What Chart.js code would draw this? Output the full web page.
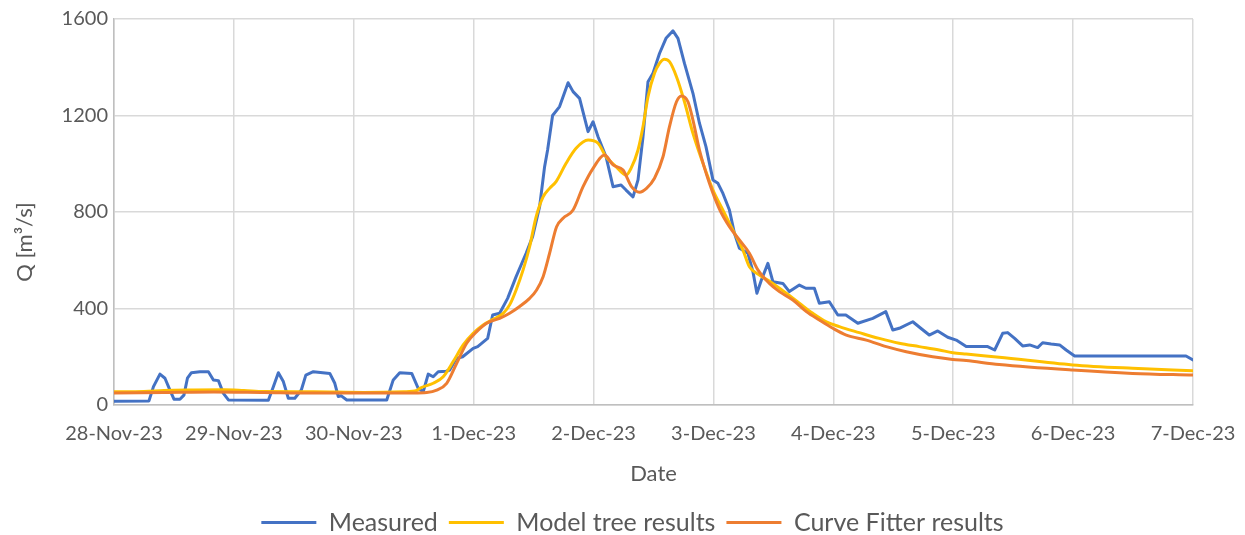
<!DOCTYPE html>
<html>
<head>
<meta charset="utf-8">
<script src="https://cdn.jsdelivr.net/npm/chart.js@4.4.1/dist/chart.umd.min.js"></script>
<style>
  html, body { margin: 0; padding: 0; background: #ffffff; }
  #wrap { width: 1245px; height: 535px; }
</style>
</head>
<body>
<div id="wrap"><canvas id="c" width="1245" height="535"></canvas></div>
<script>
// ---- data (x in hours from 28-Nov-23 00:00) ----
const dayLabels = ['28-Nov-23','29-Nov-23','30-Nov-23','1-Dec-23','2-Dec-23','3-Dec-23','4-Dec-23','5-Dec-23','6-Dec-23','7-Dec-23'];
const seriesNames = ['Measured', 'Model tree results', 'Curve Fitter results'];
const xTitle = 'Date';
const yTitle = 'Q [m\u00B3/s]';
const yTicks = [0, 400, 800, 1200, 1600];

const measuredHours = [0,7,7.9,9.2,10.2,11.2,12,13.2,14,14.7,15.5,17.2,18.9,19.9,20.9,21.9,22.9,30.9,31.9,32.9,33.9,34.9,36.2,37.5,38.4,39.9,43.2,44.2,44.9,45.5,46.6,54.6,55.9,57.2,59.6,60.9,61.9,62.9,63.9,64.9,66.5,67.2,68.5,69.8,71.9,72.8,74.8,75.8,77.2,78.8,80.5,82.5,83.8,85.2,86.2,86.8,87.8,89.2,90.9,91.9,93.2,94.9,95.9,96.9,98.5,99.9,101.5,102.5,103.9,104.9,105.9,106.9,107.9,109.2,110.5,111.9,112.9,114.2,115.9,117.2,118.5,119.9,120.9,121.9,123.2,124.2,125.2,126.9,127.9,128.7,129.6,130.9,131.9,133.9,135.2,137.2,138.5,140.2,141.2,143.2,144.9,146.5,148.9,151.9,154.5,155.9,157.2,159.9,161.5,163.2,164.9,166.9,168.6,170.6,174.9,176.3,177.9,178.9,180.3,181.9,183.3,184.9,185.9,187.6,189.3,190.6,192.3,214.6,216];
const measuredQ = [16,17,76,128,111,62,24,24,41,111,134,138,138,104,101,48,21,20,76,134,97,28,28,62,124,138,131,90,35,38,21,21,104,134,131,69,55,128,117,138,140,145,193,200,235,242,276,373,380,442,532,629,698,822,988,1057,1200,1237,1336,1299,1271,1133,1174,1112,1029,905,912,891,863,933,1112,1340,1375,1457,1520,1551,1520,1416,1292,1168,1071,933,919,877,808,712,650,629,553,463,518,587,511,504,470,497,484,484,422,428,373,373,339,359,387,311,318,345,318,290,307,281,269,242,242,228,297,300,276,245,249,238,258,253,249,228,203,203,187];

const modelHours = [0,6,10,16,22,26,30,40,50,58,60.6,61.2,63.9,65.9,67.9,69.9,71.9,73.9,75.9,77.9,79.2,80.5,81.9,83.2,84.5,85.9,87.2,88.5,90.5,92.5,94.9,96.9,98.5,100.5,102.5,103.5,104.9,105.9,106.9,108.2,109.2,110.2,111.2,112.6,114.2,115.9,117.9,119.9,121.9,123.9,125.9,127.2,129.2,131.9,134.6,137.2,139.9,142.6,145.2,149.2,153.2,157.2,161.2,165.2,167.9,170.6,177.2,191.9,203.9,216];
const modelQ = [55,56,60,62,63,60,56,55,52,55,60,69,90,117,180,249,297,332,355,380,415,477,560,656,780,863,898,926,1002,1064,1098,1085,1029,988,953,981,1057,1154,1278,1375,1416,1433,1423,1361,1257,1126,1002,891,808,725,642,573,539,504,463,422,380,345,325,300,276,256,242,228,217,211,198,166,152,142];

const fitterHours = [0,10,20,30,40,50,60,62.6,64.6,66.6,68.6,70.6,72.6,74.6,77.2,79.2,81.2,83.2,84.6,85.9,87.2,88.6,89.9,91.9,93.9,95.9,98.2,99.9,101.9,103.6,105.2,106.6,108.2,109.9,111.2,112.6,113.6,114.9,115.9,117.2,119.2,121.2,123.2,125.2,127.2,128.9,131.2,133.2,135.9,138.6,141.2,143.9,146.6,150.6,154.6,158.6,163.9,167.9,170.6,177.2,191.9,203.9,216];
const fitterQ = [50,52,54,52,50,50,50,52,62,90,173,256,304,339,359,380,408,442,477,532,629,739,774,808,905,981,1036,995,974,905,882,898,940,1029,1154,1257,1281,1257,1181,1057,919,812,739,684,629,560,504,470,435,387,352,318,290,269,242,221,200,189,184,168,145,131,124];

const seriesColors = ['#4472C4', '#FFC000', '#ED7D31'];

function pairs(xs, ys) { return xs.map((x, i) => ({ x: x, y: ys[i] })); }

const TXT = '#595959';
const FONT = 'Lato, "Open Sans", sans-serif';

const yTitlePlugin = {
  id: 'yTitleCustom',
  afterDraw(chart) {
    const ctx = chart.ctx;
    ctx.save();
    ctx.translate(25, 242);
    ctx.rotate(-Math.PI / 2);
    ctx.font = '22px ' + FONT;
    ctx.fillStyle = TXT;
    ctx.textAlign = 'center';
    ctx.textBaseline = 'middle';
    ctx.fillText(yTitle, 0, 0);
    ctx.restore();
  }
};

// shift the legend box horizontally so it is centred like the reference
const legendShiftPlugin = {
  id: 'legendShift',
  afterLayout(chart) {
    const l = chart.legend;
    if (l) { l.left += 36; l.right += 36; }
  }
};

const mk = (i, xs, ys, order, smooth) => ({
  label: seriesNames[i],
  data: pairs(xs, ys),
  borderColor: seriesColors[i],
  backgroundColor: seriesColors[i],
  borderWidth: 3,
  pointRadius: 0,
  pointHoverRadius: 0,
  fill: false,
  order: order,
  borderCapStyle: 'round',
  borderJoinStyle: 'round',
  cubicInterpolationMode: smooth ? 'monotone' : 'default',
  tension: 0
});

new Chart(document.getElementById('c'), {
  type: 'line',
  data: {
    datasets: [
      mk(0, measuredHours, measuredQ, 3, false),
      mk(1, modelHours, modelQ, 2, true),
      mk(2, fitterHours, fitterQ, 1, true)
    ]
  },
  options: {
    responsive: false,
    animation: false,
    devicePixelRatio: 1,
    layout: { padding: { top: 19, right: 52, bottom: -10, left: 0 } },
    plugins: {
      tooltip: { enabled: false },
      legend: {
        position: 'bottom',
        labels: {
          usePointStyle: true,
          pointStyle: 'line',
          pointStyleWidth: 55,
          padding: 11,
          color: TXT,
          font: { family: FONT, size: 25 },
          sort: (a, b) => a.datasetIndex - b.datasetIndex
        }
      }
    },
    scales: {
      x: {
        type: 'linear',
        min: 0,
        max: 216,
        afterFit: s => { s.height = 94; s.paddingLeft = 0; s.paddingRight = 0; },
        ticks: {
          stepSize: 24,
          autoSkip: false,
          maxRotation: 0,
          padding: 17,
          color: TXT,
          font: { family: FONT, size: 20 },
          callback: v => dayLabels[Math.round(v / 24)]
        },
        grid: { color: '#D9D9D9', lineWidth: 1.5, drawTicks: false },
        border: { color: '#BFBFBF', width: 1.5 },
        title: { display: true, text: xTitle, color: TXT, font: { family: FONT, size: 22 }, padding: { top: 0, bottom: 12 } }
      },
      y: {
        min: 0,
        max: 1600,
        afterFit: s => { s.width = 114; },
        afterBuildTicks: s => { s.ticks = yTicks.map(v => ({ value: v })); },
        ticks: {
          padding: 6,
          color: TXT,
          font: { family: FONT, size: 20 },
          callback: v => String(v)
        },
        grid: { color: '#D9D9D9', lineWidth: 1.5, drawTicks: false },
        border: { color: '#BFBFBF', width: 1.5 }
      }
    }
  },
  plugins: [yTitlePlugin, legendShiftPlugin]
});
</script>
</body>
</html>
